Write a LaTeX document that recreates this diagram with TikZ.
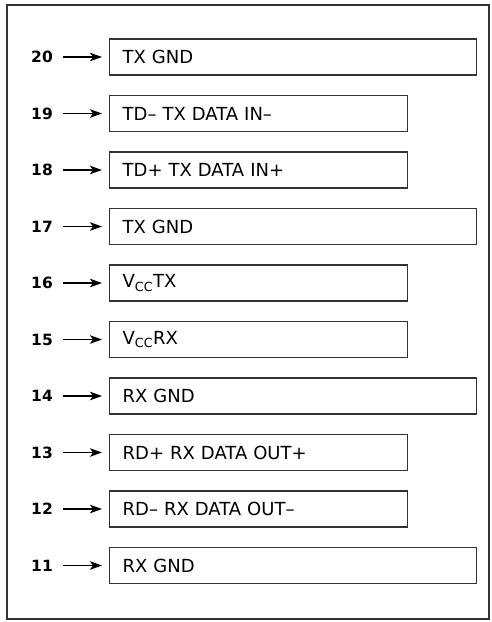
\documentclass[tikz,border=0pt]{standalone}
\usepackage{fontspec}
\setmainfont{DejaVu Sans}
\usetikzlibrary{positioning,arrows.meta}
\definecolor{framecol}{HTML}{333333}
\tikzset{
  pinbox/.style={draw=framecol, line width=1.3pt, anchor=west, minimum height=36pt,
    inner xsep=13pt, align=left, font=\fontsize{18}{20}\selectfont},
  longbox/.style={pinbox, text width=341pt},
  shortbox/.style={pinbox, text width=272pt},
  pinnum/.style={anchor=east, inner sep=0pt, font=\fontsize{15.5}{17}\selectfont\bfseries},
  pinarrow/.style={-{Stealth[length=12pt,width=8.5pt,inset=3pt]}, line width=1.4pt, shorten <=10pt, shorten >=7pt}
}
\begin{document}
\begin{tikzpicture}[x=1pt, y=-1pt]
  \useasboundingbox (0,0) rectangle (492,622);
  \draw[framecol, line width=1.5pt] (7,5) rectangle (489,619);

  % pin numbers
  \node[pinnum] (pin20) at (53,57)    {20};
  \node[pinnum] (pin19) at (53,113.5) {19};
  \node[pinnum] (pin18) at (53,170)   {18};
  \node[pinnum] (pin17) at (53,226.5) {17};
  \node[pinnum] (pin16) at (53,283)   {16};
  \node[pinnum] (pin15) at (53,339.5) {15};
  \node[pinnum] (pin14) at (53,396)   {14};
  \node[pinnum] (pin13) at (53,452.5) {13};
  \node[pinnum] (pin12) at (53,509)   {12};
  \node[pinnum] (pin11) at (53,565.5) {11};

  % signal boxes
  \node[longbox]  (box20) at (109,57)    {TX GND};
  \node[shortbox] (box19) at (109,113.5) {TD\textendash{} TX DATA IN\textendash};
  \node[shortbox] (box18) at (109,170)   {TD+ TX DATA IN+};
  \node[longbox]  (box17) at (109,226.5) {TX GND};
  \node[shortbox] (box16) at (109,283)   {V\textsubscript{CC}TX};
  \node[shortbox] (box15) at (109,339.5) {V\textsubscript{CC}RX};
  \node[longbox]  (box14) at (109,396)   {RX GND};
  \node[shortbox] (box13) at (109,452.5) {RD+ RX DATA OUT+};
  \node[shortbox] (box12) at (109,509)   {RD\textendash{} RX DATA OUT\textendash};
  \node[longbox]  (box11) at (109,565.5) {RX GND};

  % arrows
  \draw[pinarrow] (pin20) -- (box20);
  \draw[pinarrow] (pin19) -- (box19);
  \draw[pinarrow] (pin18) -- (box18);
  \draw[pinarrow] (pin17) -- (box17);
  \draw[pinarrow] (pin16) -- (box16);
  \draw[pinarrow] (pin15) -- (box15);
  \draw[pinarrow] (pin14) -- (box14);
  \draw[pinarrow] (pin13) -- (box13);
  \draw[pinarrow] (pin12) -- (box12);
  \draw[pinarrow] (pin11) -- (box11);
\end{tikzpicture}
\end{document}
